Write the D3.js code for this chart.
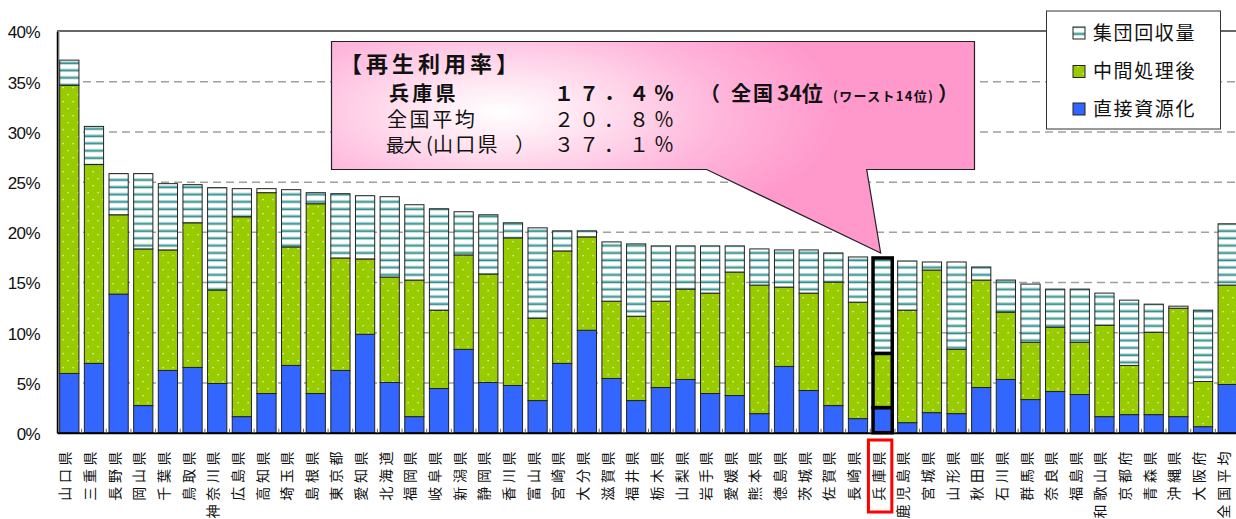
<!DOCTYPE html>
<html>
<head>
<meta charset="utf-8">
<script src="https://cdn.jsdelivr.net/npm/d3@7"></script>
<style>
body { margin:0; background:#fff; }
svg { display:block; font-family:"Noto Sans CJK JP", sans-serif; }
</style>
</head>
<body>
<div id="chart"></div>
<script>
// categories (sorted by recycling rate, last one is the national average)
var prefs = ["山口県","三重県","長野県","岡山県","千葉県","鳥取県","神奈川県","広島県","高知県","埼玉県",
	"島根県","東京都","愛知県","北海道","福岡県","岐阜県","新潟県","静岡県","香川県","富山県",
	"宮崎県","大分県","滋賀県","福井県","栃木県","山梨県","岩手県","愛媛県","熊本県","徳島県",
	"茨城県","佐賀県","長崎県","兵庫県","鹿児島県","宮城県","山形県","秋田県","石川県","群馬県",
	"奈良県","福島県","和歌山県","京都府","青森県","沖縄県","大阪府","全国平均"];
// 直接資源化 (%)
var direct = [5.9,6.9,13.8,2.7,6.2,6.5,4.9,1.6,3.9,6.7,
	3.9,6.2,9.8,5.0,1.6,4.4,8.3,5.0,4.7,3.2,
	6.9,10.2,5.4,3.2,4.5,5.3,3.9,3.7,1.9,6.6,
	4.2,2.7,1.4,2.5,1.0,2.0,1.9,4.5,5.3,3.3,
	4.1,3.8,1.6,1.8,1.8,1.6,0.6,4.8];
// 中間処理後 (%)
var middle = [28.7,19.8,7.9,15.6,12.0,14.4,9.3,19.9,20.0,11.8,
	18.9,11.2,7.5,10.5,13.6,7.8,9.4,10.8,14.7,8.2,
	11.2,9.3,7.7,8.4,8.6,9.0,10.0,12.3,12.8,7.9,
	9.7,12.3,11.6,5.4,11.2,14.2,6.4,10.7,6.7,5.7,
	6.4,5.2,9.1,4.9,8.2,10.8,4.5,9.9];
// 集団回収量 (%)
var group = [2.5,3.8,4.1,7.5,6.6,3.8,10.2,2.8,0.4,5.7,
	1.1,6.4,6.3,8.0,7.5,10.1,4.3,5.9,1.5,9.0,
	2.0,0.6,5.9,7.2,5.5,4.3,4.7,2.6,3.6,3.7,
	4.3,2.9,4.5,9.5,4.9,0.8,8.7,1.3,3.2,5.8,
	3.8,5.3,3.2,6.5,2.8,0.2,7.1,6.1];
var yTicks = [0,5,10,15,20,25,30,35,40];
var legendNames = ["集団回収量","中間処理後","直接資源化"];
var highlight = "兵庫県";

var width = 1236, height = 519;
var plotLeft = 57, plotTop = 31, plotBottom = 432.7, plotRight = 1240;

var svg = d3.select("#chart").append("svg")
	.attr("width", width)
	.attr("height", height);

var defs = svg.append("defs");
// striped fill for 集団回収量
var stripe = defs.append("pattern").attr("id","stripe")
	.attr("patternUnits","userSpaceOnUse").attr("width",8).attr("height",7.3);
stripe.append("rect").attr("width",8).attr("height",7.3).attr("fill","#fff");
stripe.append("rect").attr("y",3).attr("width",8).attr("height",1).attr("fill","#9fd3d0");
stripe.append("rect").attr("y",4).attr("width",8).attr("height",1.8).attr("fill","#2e8c8a");
// dotted green for 中間処理後
var dots = defs.append("pattern").attr("id","dots")
	.attr("patternUnits","userSpaceOnUse").attr("width",10).attr("height",14);
dots.append("rect").attr("width",10).attr("height",14).attr("fill","#99cc00");
dots.append("rect").attr("x",2.5).attr("y",3).attr("width",1.3).attr("height",1.3).attr("fill","#eaf5c8");
dots.append("rect").attr("x",7.5).attr("y",10).attr("width",1.3).attr("height",1.3).attr("fill","#eaf5c8");

// pink glow of the callout, light in the middle
var pink = defs.append("radialGradient").attr("id","pink")
	.attr("gradientUnits","userSpaceOnUse")
	.attr("cx",500).attr("cy",112).attr("r",340)
	.attr("gradientTransform","translate(500,112) scale(1,0.4) translate(-500,-112)");
pink.append("stop").attr("offset","0%").attr("stop-color","#ffffff");
pink.append("stop").attr("offset","20%").attr("stop-color","#ffeaf4");
pink.append("stop").attr("offset","65%").attr("stop-color","#ffb6db");
pink.append("stop").attr("offset","100%").attr("stop-color","#ff99cc");

var x = d3.scaleBand().domain(prefs).range([plotLeft, plotRight]).paddingInner(0.22).paddingOuter(0.11);
var y = d3.scaleLinear().domain([0,40]).range([plotBottom, plotTop]);

// grid
var grid = svg.append("g").attr("transform","translate("+plotLeft+",0)")
	.call(d3.axisLeft(y).tickValues(yTicks.slice(1, -1)).tickSize(-(width - plotLeft)).tickFormat(""));
grid.select(".domain").remove();
grid.selectAll("line").attr("stroke","#a0a0a0").attr("stroke-width",1.5).attr("stroke-dasharray","8,5");

// top frame line and left strip
svg.append("line").attr("x1",plotLeft).attr("x2",width).attr("y1",y(40)).attr("y2",y(40))
	.attr("stroke","#333").attr("stroke-width",1.5);
svg.append("rect").attr("x",plotLeft).attr("y",plotTop).attr("width",2.5).attr("height",plotBottom-plotTop).attr("fill","#999");

// y labels
var yAxis = svg.append("g").attr("transform","translate("+plotLeft+",0)")
	.call(d3.axisLeft(y).tickValues(yTicks).tickSize(0).tickPadding(17).tickFormat(function(d){return d+"%";}));
yAxis.select(".domain").attr("stroke","#000").attr("stroke-width",1.5);
yAxis.selectAll("text").attr("dy","0.4em")
	.style("font-family","'Liberation Sans', Arial, sans-serif").style("font-size","17px")
	.style("letter-spacing","-0.6px").attr("fill","#111");

// stacked bars
var rows = prefs.map(function(p, i){
	return {name:p, direct:direct[i], middle:middle[i], group:group[i]};
});
var stack = d3.stack().keys(["direct","middle","group"]);
var fills = {direct:"#3366ff", middle:"url(#dots)", group:"url(#stripe)"};
svg.append("g").selectAll("g")
	.data(stack(rows))
	.enter().append("g")
	.attr("fill", function(d){return fills[d.key];})
	.selectAll("rect")
	.data(function(d){return d;})
	.enter().append("rect")
	.attr("x", function(d){return x(d.data.name);})
	.attr("width", x.bandwidth())
	.attr("y", function(d){return y(d[1]);})
	.attr("height", function(d){return y(d[0]) - y(d[1]);})
	.attr("stroke", function(d){return d.data.name == highlight ? "#000" : "#222";})
	.attr("stroke-width", function(d){return d.data.name == highlight ? 3.5 : 1;});

// x axis
var xAxis = svg.append("g").attr("transform","translate(0,"+plotBottom+")")
	.call(d3.axisBottom(x).tickSize(0));
xAxis.select(".domain").attr("stroke","#000").attr("stroke-width",2);
xAxis.selectAll("text")
	.attr("x",0).attr("y",0).attr("dy","0.36em")
	.attr("transform","translate(-4,15) rotate(-90)")
	.attr("text-anchor","end")
	.style("font-size","14px").style("letter-spacing","3.7px")
	.style("font-family","'Noto Sans CJK JP', sans-serif").attr("fill","#111");
// small category ticks between bars
svg.append("g").selectAll("line")
	.data(prefs.slice(1))
	.enter().append("line")
	.attr("x1", function(d){return x(d) - x.step()*x.paddingInner()/2;})
	.attr("x2", function(d){return x(d) - x.step()*x.paddingInner()/2;})
	.attr("y1", plotBottom).attr("y2", plotBottom - 4)
	.attr("stroke","#666").attr("stroke-width",1);

// red box around highlighted label
svg.append("rect")
	.attr("x", x(highlight) - 4.6).attr("y", 440)
	.attr("width", 23.4).attr("height", 72)
	.attr("fill","none").attr("stroke","#ff0000").attr("stroke-width",3);

// callout
var tipX = x(highlight) + x.bandwidth()/2 - 2, tipY = y(17.4) - 5;
svg.append("path")
	.attr("d", d3.line()([[331.5,41.5],[974.5,41.5],[974.5,169.5],[866.7,169.5],[tipX,tipY],[706.7,169.5],[331.5,169.5]]) + "Z")
	.attr("fill","url(#pink)").attr("stroke","#222").attr("stroke-width",1.2);

var call = svg.append("g").attr("fill","#111");
call.append("text").attr("x",340).attr("y",64.5).attr("dy","0.36em")
	.style("font-size","22px").style("font-weight","bold").style("letter-spacing","4px")
	.text("【再生利用率】");

var l2 = call.append("text").attr("y",94).attr("dy","0.36em")
	.style("font-size","20px").style("font-weight","bold");
l2.append("tspan").attr("x",389).style("letter-spacing","3.3px").text("兵庫県");
l2.append("tspan").attr("x",554).style("letter-spacing","5px").text("１７．４％");
l2.append("tspan").attr("x",700).text("（");
l2.append("tspan").attr("x",731).style("letter-spacing","2px").text("全国");
l2.append("tspan").attr("x",777).style("font-size","21px").text("34位");
l2.append("tspan").attr("x",833).style("font-size","13px").style("letter-spacing","1.3px").text("(ワースト14位)");
l2.append("tspan").attr("x",938).text("）");

var l3 = call.append("text").attr("y",119.5).attr("dy","0.36em").style("font-size","20px");
l3.append("tspan").attr("x",387).style("letter-spacing","2.6px").text("全国平均");
l3.append("tspan").attr("x",554).style("letter-spacing","5px").text("２０．８％");

var l4 = call.append("text").attr("y",145).attr("dy","0.36em").style("font-size","20px");
l4.append("tspan").attr("x",386).style("font-size","18.5px").style("letter-spacing","-1.2px").text("最大");
l4.append("tspan").attr("x",426).text("(");
l4.append("tspan").attr("x",433).style("letter-spacing","2.2px").text("山口県");
l4.append("tspan").attr("x",515).text("）");
l4.append("tspan").attr("x",554).style("letter-spacing","5px").text("３７．１％");

// legend
var legend = svg.append("g");
legend.append("rect").attr("x",1046.5).attr("y",11).attr("width",174).attr("height",118)
	.attr("fill","#fff").attr("stroke","#333").attr("stroke-width",1);
var legendFills = ["url(#stripe)","url(#dots)","#3366ff"];
var legendY = [33, 71.5, 109];
legendNames.forEach(function(name, i){
	legend.append("rect").attr("x",1073).attr("y",legendY[i]-6).attr("width",12).attr("height",12)
		.attr("fill",legendFills[i]).attr("stroke","#222").attr("stroke-width",1);
	legend.append("text").attr("x",1093).attr("y",legendY[i]).attr("dy","0.36em")
		.style("font-size","19px").style("letter-spacing","1.6px").attr("fill","#111")
		.text(name);
});
</script>
</body>
</html>
